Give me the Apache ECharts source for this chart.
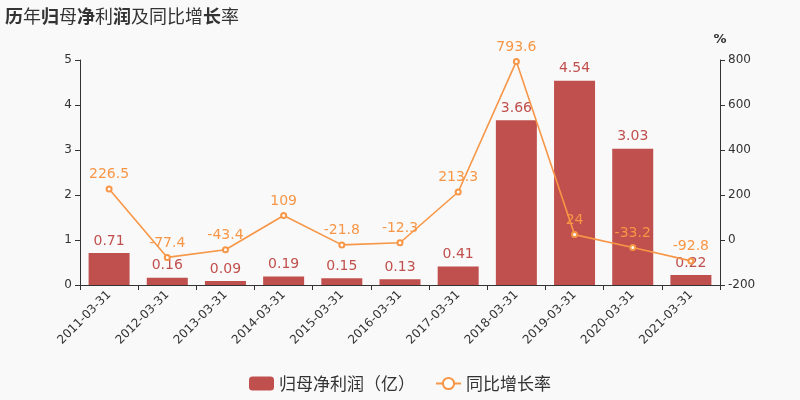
<!DOCTYPE html>
<html><head><meta charset="utf-8">
<script src="https://cdn.jsdelivr.net/npm/echarts@6/dist/echarts.min.js"></script>
<style>html,body{margin:0;padding:0;background:#f9f9f9}#c{width:800px;height:400px}</style>
</head><body><div id="c"></div>
<script>
const categories = ['2011-03-31','2012-03-31','2013-03-31','2014-03-31','2015-03-31','2016-03-31','2017-03-31','2018-03-31','2019-03-31','2020-03-31','2021-03-31'];
const profit = [0.71,0.16,0.09,0.19,0.15,0.13,0.41,3.66,4.54,3.03,0.22];
const growth = [226.5,-77.4,-43.4,109,-21.8,-12.3,213.3,793.6,24,-33.2,-92.8];
const leftTicks = [0,5,1];
const rightTicks = [-200,800,200];

const FF = 'DejaVu Sans, Noto Sans CJK SC, sans-serif';
const chart = echarts.init(document.getElementById('c'));
chart.setOption({
  backgroundColor:'#f9f9f9',
  animation:false,
  textStyle:{fontFamily:FF},
  title:{
    text:'{b|历}{n|年}{b|归}{n|母}{b|净}{n|利}{b|润}{n|及同比增}{b|长}{n|率}',
    left:0, top:2,
    textStyle:{
      rich:{
        b:{fontSize:18,fontWeight:'bold',color:'#333',fontFamily:'Noto Sans CJK SC'},
        n:{fontSize:18,fontWeight:'normal',color:'#333',fontFamily:'Noto Sans CJK SC'}
      }
    }
  },
  legend:{
    bottom:3, left:'center', itemGap:20,
    textStyle:{fontSize:17,color:'#333',fontFamily:'Noto Sans CJK SC'},
    data:[{name:'归母净利润（亿）',icon:'roundRect'},{name:'同比增长率'}],
    itemWidth:25,itemHeight:14
  },
  grid:{left:80,right:80,top:60,bottom:115},
  xAxis:{
    type:'category', data:categories,
    axisLine:{lineStyle:{color:'#333'}},
    axisTick:{show:true,lineStyle:{color:'#333'}},
    axisLabel:{rotate:45,color:'#333',fontSize:12,interval:0,fontFamily:FF}
  },
  yAxis:[
    {type:'value',min:leftTicks[0],max:leftTicks[1],interval:leftTicks[2],
     axisLine:{show:true,lineStyle:{color:'#333'}},axisTick:{show:true},
     splitLine:{show:false},axisLabel:{color:'#333',fontSize:12,fontFamily:FF}},
    {type:'value',min:rightTicks[0],max:rightTicks[1],interval:rightTicks[2],name:'%',
     nameTextStyle:{color:'#333',fontSize:13,fontWeight:'bold',align:'center',fontFamily:FF},nameGap:14,
     axisLine:{show:true,lineStyle:{color:'#333'}},axisTick:{show:true},
     splitLine:{show:false},axisLabel:{color:'#333',fontSize:12,fontFamily:FF}}
  ],
  series:[
    {name:'归母净利润（亿）',type:'bar',data:profit,barWidth:41,
     itemStyle:{color:'#c0504d'},
     label:{show:true,position:'top',color:'#c0504d',fontSize:14,fontFamily:FF}},
    {name:'同比增长率',type:'line',yAxisIndex:1,data:growth,
     symbol:'emptyCircle',symbolSize:5,
     lineStyle:{color:'#f79646',width:1.6},itemStyle:{color:'#f79646'},
     label:{show:true,position:'top',color:'#f79646',fontSize:14,distance:4,fontFamily:FF}}
  ]
});
</script></body></html>
